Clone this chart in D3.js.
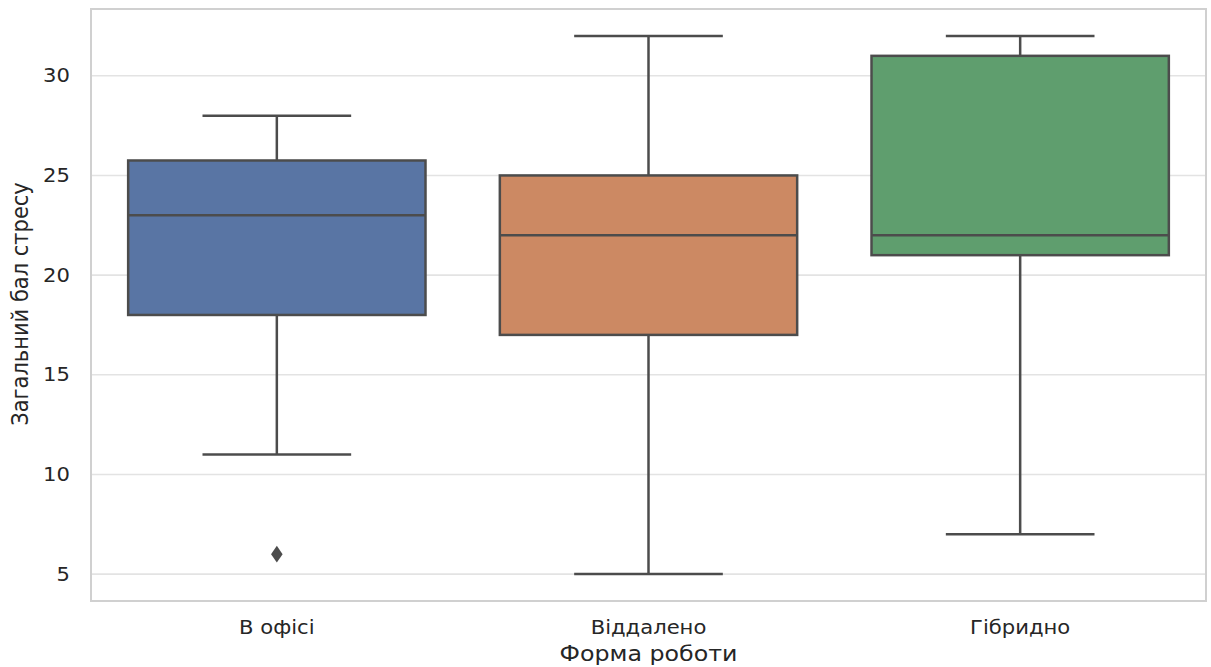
<!DOCTYPE html>
<html>
<head>
<meta charset="utf-8">
<script src="https://cdn.jsdelivr.net/npm/d3@7"></script>
<style>
  html, body { margin: 0; padding: 0; background: #fff; }
  svg { display: block; font-family: "DejaVu Sans", sans-serif; }
</style>
</head>
<body>
<svg id="chart" width="1211" height="667"></svg>
<script>
// Work format categories and their box statistics
const categories = ["В офісі", "Віддалено", "Гібридно"];
const whiskerLow = [11, 5, 7];
const q1 = [18, 17, 21];
const medians = [23, 22, 22];
const q3 = [25.75, 25, 31];
const whiskerHigh = [28, 32, 32];
const outliers = [[6], [], []];
const fills = ["#5975a4", "#cc8963", "#5f9e6e"];
const yTicks = [5, 10, 15, 20, 25, 30];

const svg = d3.select("#chart");
const margin = { left: 91, top: 9, right: 5, bottom: 66 };
const W = 1211, H = 667;
const x0 = margin.left, x1 = W - margin.right;
const y0 = margin.top, y1 = H - margin.bottom;

const x = d3.scaleBand().domain(categories).range([x0, x1]).paddingInner(0).paddingOuter(0);
const y = d3.scaleLinear().domain([3.65, 33.35]).range([y1, y0]);

const lineColor = "#4c4c4c";
const textColor = "#262626";
const font = "'DejaVu Sans', sans-serif";
const textStretch = 1.13; // glyphs are drawn slightly wide

// horizontal grid
svg.append("g").selectAll("line").data(yTicks).join("line")
  .attr("x1", x0).attr("x2", x1)
  .attr("y1", d => y(d)).attr("y2", d => y(d))
  .attr("stroke", "#e3e3e3").attr("stroke-width", 1.6);

// y tick labels via axis
const yAxis = svg.append("g").attr("transform", `translate(${x0},0)`)
  .call(d3.axisLeft(y).tickValues(yTicks).tickSize(0).tickPadding(18.6));
yAxis.select(".domain").remove();
yAxis.attr("font-family", font).attr("font-size", 18.7);
yAxis.selectAll("text").attr("fill", textColor).attr("transform", `scale(${textStretch},1)`);

// x tick labels via axis
const xAxis = svg.append("g").attr("transform", `translate(0,${y1})`)
  .call(d3.axisBottom(x).tickSize(0).tickPadding(19.5));
xAxis.select(".domain").remove();
xAxis.attr("font-family", font).attr("font-size", 18.7);
xAxis.selectAll("text").attr("fill", textColor).attr("transform", `scale(${textStretch},1)`);

const boxW = x.bandwidth() * 0.8;
const capW = boxW / 2;

const g = svg.append("g");
categories.forEach((c, i) => {
  const cx = x(c) + x.bandwidth() / 2;
  const grp = g.append("g");
  // whiskers
  grp.append("line").attr("x1", cx).attr("x2", cx)
    .attr("y1", y(whiskerLow[i])).attr("y2", y(q1[i]))
    .attr("stroke", lineColor).attr("stroke-width", 2.5);
  grp.append("line").attr("x1", cx).attr("x2", cx)
    .attr("y1", y(q3[i])).attr("y2", y(whiskerHigh[i]))
    .attr("stroke", lineColor).attr("stroke-width", 2.5);
  // caps
  [whiskerLow[i], whiskerHigh[i]].forEach(v => {
    grp.append("line").attr("x1", cx - capW / 2).attr("x2", cx + capW / 2)
      .attr("y1", y(v)).attr("y2", y(v))
      .attr("stroke", lineColor).attr("stroke-width", 2.5);
  });
  // box
  grp.append("rect")
    .attr("x", cx - boxW / 2).attr("width", boxW)
    .attr("y", y(q3[i])).attr("height", y(q1[i]) - y(q3[i]))
    .attr("fill", fills[i]).attr("stroke", lineColor).attr("stroke-width", 2.5);
  // median
  grp.append("line").attr("x1", cx - boxW / 2).attr("x2", cx + boxW / 2)
    .attr("y1", y(medians[i])).attr("y2", y(medians[i]))
    .attr("stroke", lineColor).attr("stroke-width", 2.5);
  // outliers (diamonds)
  grp.selectAll("path.out").data(outliers[i]).join("path")
    .attr("class", "out")
    .attr("d", d3.symbol(d3.symbolDiamond, 80))
    .attr("transform", d => `translate(${cx},${y(d)}) scale(1.2,1)`)
    .attr("fill", lineColor);
});

// frame
svg.append("rect").attr("x", x0).attr("y", y0)
  .attr("width", x1 - x0).attr("height", y1 - y0)
  .attr("fill", "none").attr("stroke", "#d0d0d0").attr("stroke-width", 2);

// axis titles
svg.append("text")
  .attr("transform", `translate(${(x0 + x1) / 2},661) scale(${textStretch},1)`)
  .attr("text-anchor", "middle").attr("fill", textColor)
  .attr("font-family", font).attr("font-size", 21).text("Форма роботи");
svg.append("text")
  .attr("transform", `translate(28,${(y0 + y1) / 2 - 1}) scale(${textStretch},1) rotate(-90)`)
  .attr("text-anchor", "middle").attr("fill", textColor)
  .attr("font-family", font).attr("font-size", 21).text("Загальний бал стресу");
</script>
</body>
</html>
